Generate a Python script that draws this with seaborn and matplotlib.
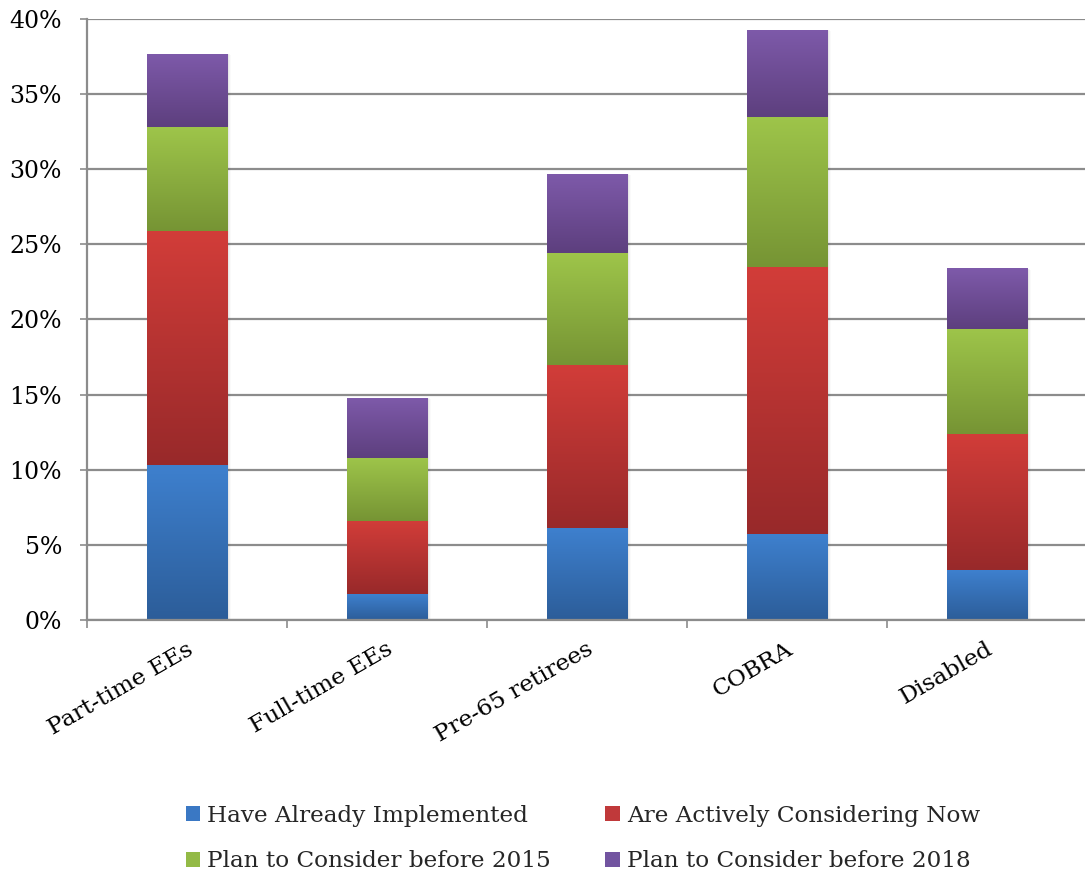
import numpy as np
import pandas as pd
import matplotlib
matplotlib.use("Agg")
import matplotlib.pyplot as plt
import matplotlib.transforms as mtransforms
import seaborn as sns
from matplotlib.patches import Patch
from matplotlib.colors import LinearSegmentedColormap
from matplotlib.ticker import FixedLocator

# ---- data (percent of respondents) ----
categories = ["Part-time EEs", "Full-time EEs", "Pre-65 retirees", "COBRA", "Disabled"]
series_names = [
    "Have Already Implemented",
    "Are Actively Considering Now",
    "Plan to Consider before 2015",
    "Plan to Consider before 2018",
]
implemented = [10.3, 1.7, 6.1, 5.7, 3.3]
considering_now = [15.6, 4.9, 10.9, 17.8, 9.1]
before_2015 = [6.9, 4.2, 7.4, 10.0, 7.0]
before_2018 = [4.9, 4.0, 5.3, 5.8, 4.0]
y_ticks = [0, 5, 10, 15, 20, 25, 30, 35, 40]
y_tick_labels = [f"{t}%" for t in y_ticks]

# ---- styling ----
top_colors = ["#3E80CE", "#D23D39", "#9EC54A", "#7E5AAA"]
bottom_colors = ["#2C5D99", "#98292A", "#769434", "#5D3F7E"]
legend_colors = ["#3A78C4", "#C0393A", "#93BA46", "#7254A0"]
grid_color = "#8C8C8C"
bar_width = 0.405

sns.set_theme(style="white")
plt.rcParams["font.family"] = ["DejaVu Serif"]

fig = plt.figure(figsize=(10.85, 8.72), dpi=100)
ax = fig.add_axes([87 / 1085, 252 / 872, 1000 / 1085, 601 / 872])

layers = np.array([implemented, considering_now, before_2015, before_2018])
tops = np.cumsum(layers, axis=0)
bottoms = tops - layers

# soft drop shadow behind each full stack
totals = tops[-1]
for k, alpha in enumerate([0.06, 0.045, 0.03, 0.02]):
    off = 0.004 + k * 0.005
    for j in range(len(categories)):
        ax.add_patch(plt.Rectangle((j - bar_width / 2 + off, -0.1), bar_width,
                                   totals[j] + 0.1 - off * 4, color="black",
                                   alpha=alpha, lw=0, zorder=1.5))

grad = np.linspace(0, 1, 256).reshape(-1, 1)
# draw the tallest cumulative layer first, lower segments on top of it
for i in reversed(range(len(series_names))):
    df = pd.DataFrame({"category": categories, "value": tops[i]})
    n_before = len(ax.patches)
    sns.barplot(data=df, x="category", y="value", color=top_colors[i],
                width=bar_width, saturation=1, errorbar=None, ax=ax, zorder=2,
                linewidth=0, edgecolor="none")
    cmap = LinearSegmentedColormap.from_list(f"g{i}", [bottom_colors[i], top_colors[i]])
    for j, p in enumerate(ax.patches[n_before:]):
        x0, w = p.get_x(), p.get_width()
        img = ax.imshow(grad, cmap=cmap, origin="lower", aspect="auto",
                        extent=(x0, x0 + w, bottoms[i][j], tops[i][j]),
                        interpolation="bilinear", zorder=3)
        img.set_clip_path(p)

ax.set_xlim(-0.5, 4.5)
ax.set_ylim(0, 40)
ax.set_xlabel("")
ax.set_ylabel("")

# axes, grid and ticks
ax.set_axisbelow(True)
ax.yaxis.grid(True, color=grid_color, lw=1.6)
ax.xaxis.grid(False)
for s in ["top", "right"]:
    ax.spines[s].set_visible(False)
for s in ["left", "bottom"]:
    ax.spines[s].set_color(grid_color)
    ax.spines[s].set_linewidth(1.6)
    ax.spines[s].set_zorder(4)

ax.set_yticks(y_ticks)
ax.set_yticklabels(y_tick_labels)
ax.tick_params(axis="y", which="major", length=5, width=1.2, color=grid_color,
               direction="out", pad=13, labelsize=17, labelcolor="black", left=True)

ax.set_xticks(range(len(categories)))
ax.set_xticklabels(categories)
ax.xaxis.set_minor_locator(FixedLocator(np.arange(-0.5, 5.0, 1.0)))
ax.tick_params(axis="x", which="major", length=0, pad=13, labelsize=16.8, labelcolor="black")
ax.tick_params(axis="x", which="minor", length=6, width=1.2, color=grid_color,
               direction="out", bottom=True)
shift = mtransforms.ScaledTranslation(-1 / 100, 0, fig.dpi_scale_trans)
for lbl in ax.get_xticklabels():
    lbl.set_rotation(30)
    lbl.set_ha("right")
    lbl.set_va("top")
    lbl.set_rotation_mode("anchor")
    lbl.set_transform(lbl.get_transform() + shift)

# legend filled row by row: two entries per row
order = [0, 2, 1, 3]
handles = [Patch(facecolor=legend_colors[k], edgecolor="none") for k in order]
labels = [series_names[k] for k in order]
fig.legend(handles, labels, loc="upper left",
           bbox_to_anchor=(186 / 1085, 1 - 805 / 872), ncol=2, frameon=False,
           fontsize=16.7, handlelength=0.62, handleheight=0.62, handletextpad=0.3,
           columnspacing=2.34, labelspacing=1.0, borderaxespad=0, borderpad=0)

fig.savefig("out.png", dpi=100, facecolor="white")
